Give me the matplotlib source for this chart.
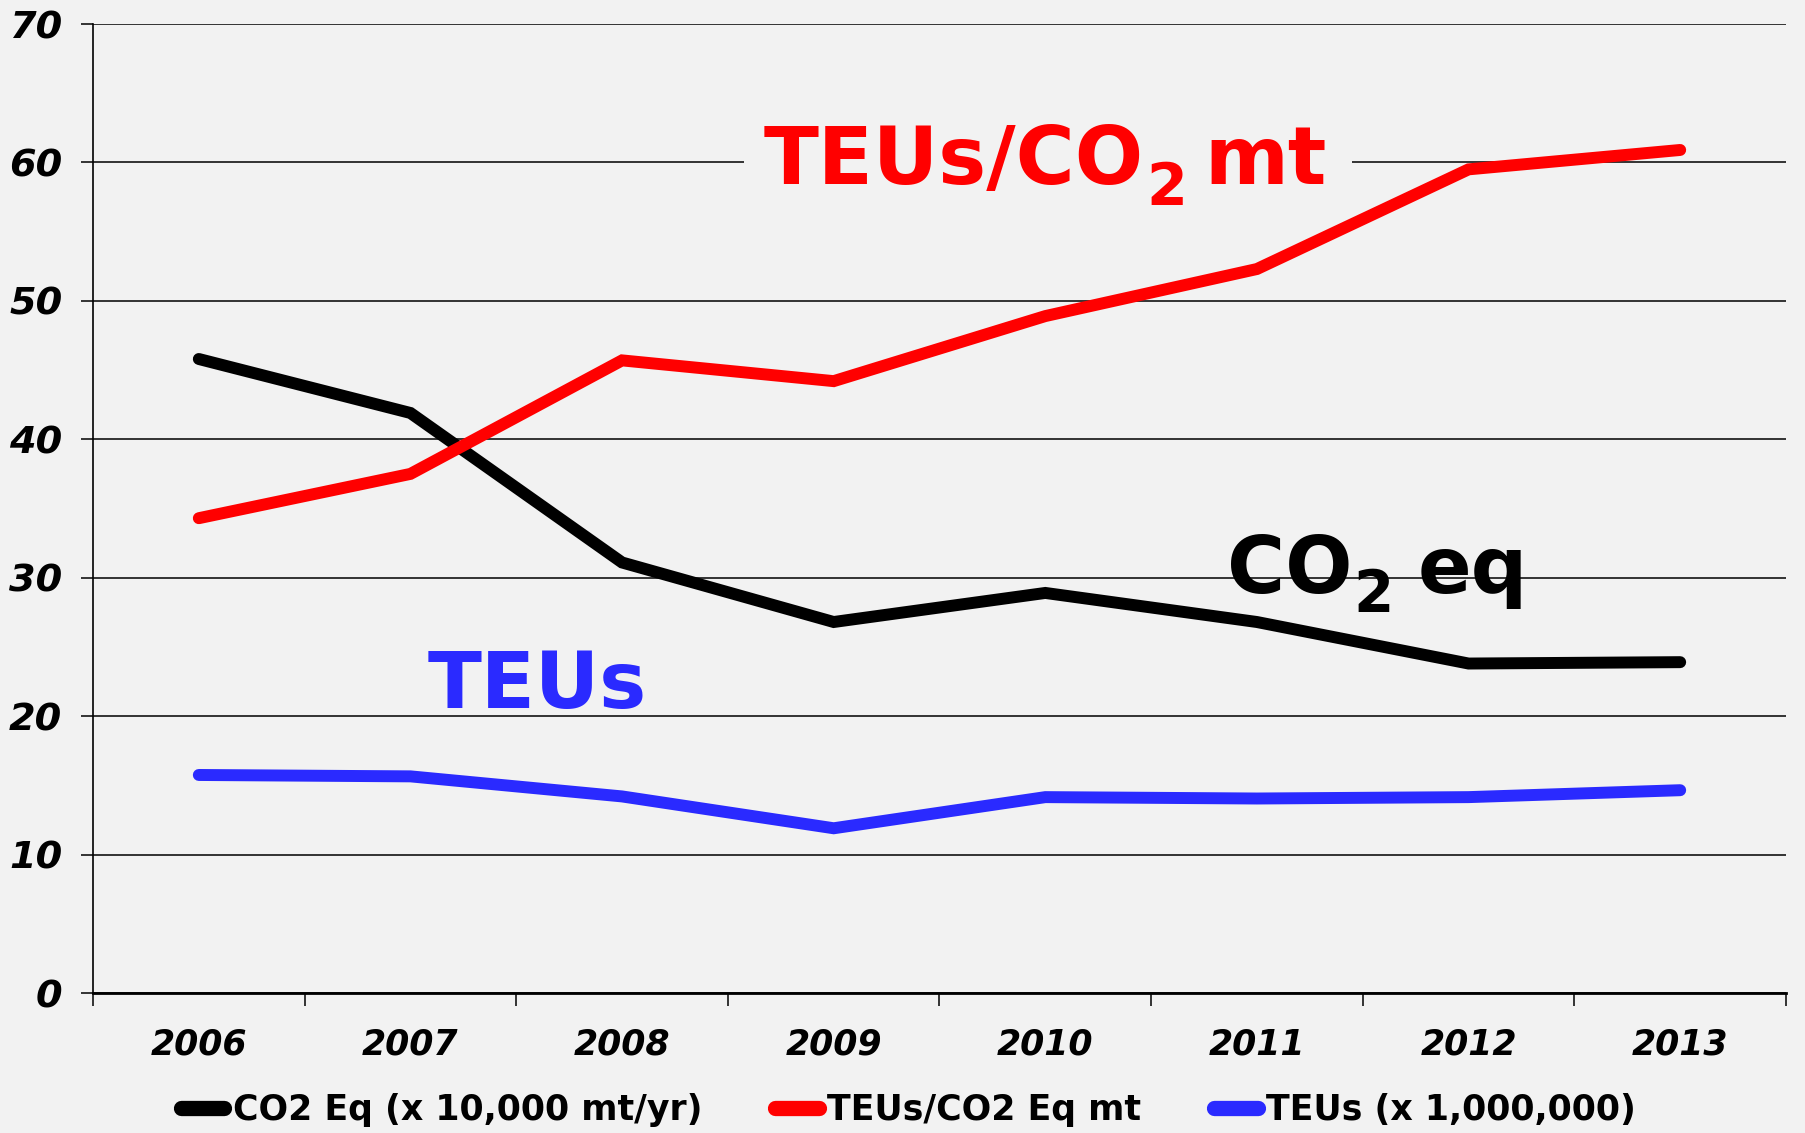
import matplotlib
matplotlib.use("Agg")
import matplotlib.pyplot as plt
from matplotlib.transforms import offset_copy
import numpy as np

years = ["2006", "2007", "2008", "2009", "2010", "2011", "2012", "2013"]
co2_eq = [45.8, 41.9, 31.1, 26.8, 28.9, 26.8, 23.8, 23.9]
teus_per_co2 = [34.3, 37.5, 45.7, 44.2, 48.9, 52.3, 59.5, 60.9]
teus = [15.75, 15.65, 14.2, 11.9, 14.15, 14.05, 14.15, 14.65]

labels = ["CO2 Eq (x 10,000 mt/yr)", "TEUs/CO2 Eq mt", "TEUs (x 1,000,000)"]
colors = ["#000000", "#FF0000", "#2A2AFF"]
bg = "#F2F2F2"

plt.rcParams["font.family"] = ["DejaVu Sans"]

fig = plt.figure(figsize=(18.06, 11.33), dpi=100, facecolor=bg)
ax = fig.add_axes([93/1806, 1-993/1133, (1786-93)/1806, (993-24)/1133])
ax.set_facecolor(bg)

x = np.arange(len(years))
for vals, lab, col in zip([co2_eq, teus_per_co2, teus], labels, colors):
    ax.plot(x, vals, color=col, lw=8.6, label=lab, solid_capstyle="round",
            solid_joinstyle="miter", zorder=4)

ax.set_xlim(-0.5, len(years) - 0.5)
ax.set_ylim(0, 70)
ax.set_yticks(np.arange(0, 71, 10))
ax.set_xticks(x)
ax.set_xticklabels(years)
ax.set_xticks(np.arange(-0.5, len(years), 1.0), minor=True)

ax.grid(axis="y", color="black", lw=1.1)
ax.set_axisbelow(True)
for s in ["top", "right"]:
    ax.spines[s].set_visible(False)
ax.spines["left"].set_linewidth(1.2)
ax.spines["bottom"].set_linewidth(2.0)

ax.tick_params(axis="y", length=9, width=1.1, pad=13, labelsize=27.5)
ax.tick_params(axis="x", which="major", length=0, pad=25, labelsize=25)
ax.tick_params(axis="x", which="minor", length=9, width=1.1, direction="out")
for t in ax.get_xticklabels() + ax.get_yticklabels():
    t.set_fontweight("bold")
    t.set_fontstyle("italic")

renderer = fig.canvas.get_renderer()


def sub_label(xd, yd, parts, color, size, zorder, ratio=0.73, drop=0.26):
    """parts: list of (text, is_sub, gap_after_px)."""
    xoff = 0.0
    for s, is_sub, gap in parts:
        tr = offset_copy(ax.transData, fig=fig, x=xoff,
                         y=(-drop * size * 100 / 72) if is_sub else 0,
                         units="dots")
        t = ax.text(xd, yd, s, transform=tr, color=color,
                    fontsize=size * (ratio if is_sub else 1.0),
                    fontweight="bold", ha="left", va="baseline", zorder=zorder)
        ext = t.get_window_extent(renderer)
        xoff += ext.width + gap
    return xoff


# red label with a background box that hides the gridline behind it
w = sub_label(2.671, 58.45, [("TEUs/CO", False, 2), ("2", True, 17), ("mt", False, 0)],
              "#FF0000", 58, 3.5, ratio=0.73, drop=0.265)
p0 = ax.transData.transform((2.671, 60))
inv = ax.transData.inverted()
bl = inv.transform((p0[0] - 20, p0[1] - 6))
tr_ = inv.transform((p0[0] + w + 26, p0[1] + 6))
ax.add_patch(plt.Rectangle((bl[0], bl[1]), tr_[0] - bl[0], tr_[1] - bl[1],
                           facecolor=bg, edgecolor="none", zorder=3))

sub_label(4.859, 28.9, [("CO", False, 1), ("2", True, 24), ("eq", False, 0)],
          "black", 57, 5, ratio=0.73, drop=0.235)

ax.text(1.6, 20.6, "TEUs", color="#2A2AFF", fontsize=57, fontweight="bold",
        ha="center", va="baseline", zorder=5)

leg = fig.legend(loc="center", bbox_to_anchor=(0.503, 0.0203), ncol=3,
                 frameon=False, prop=dict(size=25, weight="bold"),
                 handlelength=1.25, handletextpad=0.25, columnspacing=2.1,
                 borderaxespad=0)
for h in leg.legend_handles:
    h.set_linewidth(11)
    h.set_solid_capstyle("round")

fig.savefig("out.png", dpi=100, facecolor=bg)
